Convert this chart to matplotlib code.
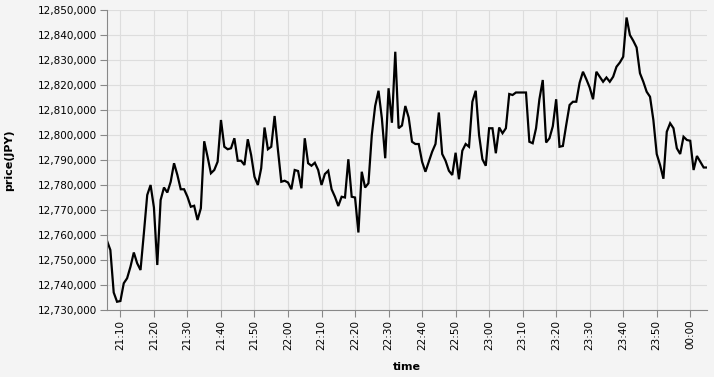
import numpy as np
import pandas as pd
import matplotlib
matplotlib.use("Agg")
import matplotlib.pyplot as plt
import matplotlib.dates as mdates

# one price per minute, 21:06 -> 00:05
start_time = "2021-01-01 21:06"
prices_k = [
    12757.7, 12754, 12737, 12733.3, 12733.6, 12740.7, 12742.7, 12747.3, 12753, 12748.7,
    12746, 12760.7, 12776, 12780, 12771, 12748, 12774, 12779, 12777, 12781.3,
    12788.7, 12784, 12778.3, 12778.3, 12775.3, 12771.3, 12771.7, 12766, 12770.7, 12797.5,
    12791.3, 12784.7, 12786, 12789.3, 12806, 12795.3, 12794.3, 12794.7, 12798.7, 12789.7,
    12789.7, 12788, 12798.3, 12792, 12783.3, 12780, 12786.7, 12803, 12794.3, 12795.3,
    12807.6, 12794, 12781.3, 12781.7, 12781, 12778.3, 12786, 12785.6, 12778.7, 12798.7,
    12788.7, 12787.7, 12788.9, 12786, 12780, 12784.4, 12785.7, 12778.3, 12775.3, 12771.6,
    12775.3, 12775, 12790.3, 12775.3, 12775, 12761, 12785.3, 12779, 12780.7, 12800,
    12811.6, 12817.7, 12806.7, 12790.7, 12818.7, 12804.9, 12833.3, 12802.7, 12803.8, 12811.6,
    12807, 12797.3, 12796.4, 12796.4, 12789.3, 12785.3, 12789.3, 12793.3, 12796.4, 12809,
    12792.4, 12789.7, 12785.7, 12784, 12792.9, 12782.3, 12793.7, 12796.4, 12795.3, 12813.3,
    12817.7, 12800, 12790.3, 12787.7, 12802.7, 12802.7, 12792.7, 12803, 12800.7, 12802.7,
    12816.4, 12816, 12817, 12817, 12817, 12817, 12797.3, 12796.7, 12802.7, 12814.3,
    12822, 12797, 12798.7, 12803.5, 12814.3, 12795.3, 12795.6, 12804, 12812, 12813.3,
    12813.3, 12820.9, 12825.3, 12822.3, 12819, 12814.3, 12825.3, 12823.3, 12821.3, 12823,
    12821.3, 12823.3, 12827.3, 12829, 12831.3, 12847, 12840, 12837.7, 12835, 12824.7,
    12821.3, 12817.3, 12815.3, 12806, 12792.4, 12788, 12782.5, 12801.3, 12804.7, 12802.7,
    12794.7, 12792.4, 12799.3, 12798, 12797.7, 12786, 12791.6, 12789.3, 12787, 12787,
]
prices = np.array(prices_k) * 1000
times = pd.date_range(start_time, periods=len(prices), freq="min")

bg = "#f4f4f4"
fig = plt.figure(figsize=(7.14, 3.77), dpi=100, facecolor=bg)
ax = fig.add_axes([107 / 714, 67 / 377, 600 / 714, 300 / 377], facecolor=bg)

ax.plot(times, prices, color="black", linewidth=1.6, solid_joinstyle="miter")

ax.set_xlim(times[0], times[-1])
ax.set_ylim(12730000, 12850000)
ax.set_yticks(np.arange(12730000, 12850001, 10000))
ax.yaxis.set_major_formatter(matplotlib.ticker.FuncFormatter(lambda v, p: f"{int(v):,}"))

ax.xaxis.set_major_locator(mdates.MinuteLocator(byminute=range(0, 60, 10)))
ax.xaxis.set_major_formatter(mdates.DateFormatter("%H:%M"))
for lab in ax.get_xticklabels():
    lab.set_rotation(90)

ax.grid(True, color="#dddddd", linewidth=0.8)
ax.set_axisbelow(True)
for side in ["top", "right"]:
    ax.spines[side].set_visible(False)
for side in ["left", "bottom"]:
    ax.spines[side].set_color("#888888")
    ax.spines[side].set_linewidth(0.8)
ax.tick_params(colors="#888888", length=5, width=0.8, labelsize=7.5, labelcolor="black", pad=2)

ax.set_xlabel("time", fontsize=8, fontweight="bold", labelpad=9)
ax.set_ylabel("price(JPY)", fontsize=8, fontweight="bold", labelpad=17)

fig.savefig("out.png", dpi=100, facecolor=bg)
